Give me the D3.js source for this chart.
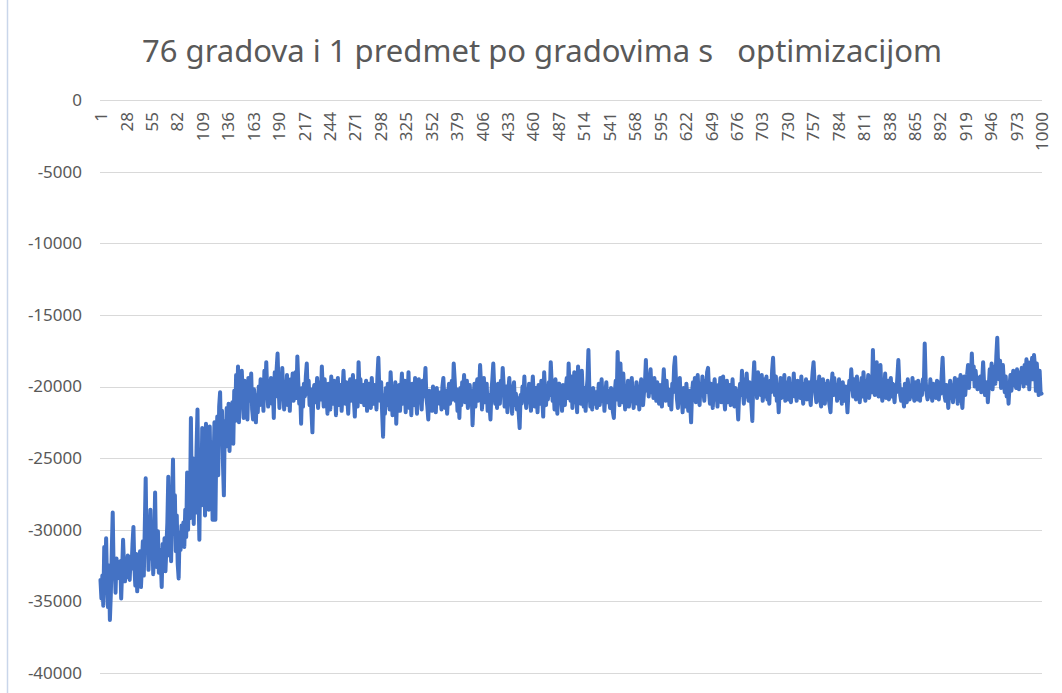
<!DOCTYPE html>
<html>
<head>
<meta charset="utf-8">
<script src="https://cdn.jsdelivr.net/npm/d3@7"></script>
<style>
  body { margin: 0; background: #fff; }
  svg { display: block; }
</style>
</head>
<body>
<svg></svg>
<script>
"use strict";

// Data
const title = "76 gradova i 1 predmet po gradovima s   optimizacijom";
const categories = d3.range(1, 1001);
const xTickLabels = [1, 28, 55, 82, 109, 136, 163, 190, 217, 244, 271, 298, 325, 352, 379, 406, 433, 460, 487,
  514, 541, 568, 595, 622, 649, 676, 703, 730, 757, 784, 811, 838, 865, 892, 919, 946, 973, 1000];
const yTicks = [0, -5000, -10000, -15000, -20000, -25000, -30000, -35000, -40000];

const values = [
  -33500, -34800, -33200, -35300, -31200, -34000, -30600, -33800, -35400, -32500, -36300, -34500, -31500, -28800, -33000, -32300, -34400, -32000, -33400, -32600,
  -33100, -32200, -34800, -32800, -30700, -32500, -33600, -32100, -33300, -31800, -32900, -33500, -31900, -32700, -31000, -29800, -32600, -33900, -31700, -34300,
  -32200, -33800, -31500, -34000, -32400, -30800, -33200, -30000, -26400, -31500, -29200, -32800, -30400, -28600, -32000, -30200, -33100, -31000, -27400, -31800,
  -32600, -30100, -33000, -31400, -32200, -34000, -31000, -32500, -30600, -32900, -31200, -29500, -26300, -31800, -29000, -32200, -28000, -25100, -30300, -27600,
  -31500, -29000, -32400, -33400, -30200, -31400, -29700, -30900, -29500, -31200, -28600, -30500, -26000, -30000, -27000, -29200, -22200, -28400, -25000, -29600,
  -25500, -28800, -24300, -21600, -27200, -30700, -24800, -28300, -22900, -27500, -23500, -29000, -22600, -26800, -24200, -28600, -22800, -27000, -23900, -29300,
  -25600, -22500, -29300, -24000, -22100, -26200, -21400, -20400, -23800, -21700, -25300, -27600, -22400, -24200, -21500, -23600, -21200, -24500, -22000, -23300,
  -21100, -24000, -20300, -22400, -19200, -21800, -18600, -22500, -19800, -21300, -18900, -20700, -22200, -19600, -21500, -20100, -22300, -19400, -21000, -20400,
  -19100, -21600, -22300, -20200, -21000, -22500, -20600, -21800, -20000, -21300, -19500, -20900, -19800, -21700, -18900, -20500, -18300, -20300, -21400, -19600,
  -20800, -19400, -21200, -20100, -22200, -19000, -20700, -18800, -17700, -19900, -21500, -19300, -20600, -18700, -20400, -21600, -19800, -20900, -19200, -21300,
  -20000, -21700, -19500, -20600, -19100, -21000, -20300, -19000, -20800, -17900, -19700, -21200, -20400, -22600, -20100, -21400, -19800, -20700, -19300, -18400,
  -20500, -19600, -21300, -20200, -21800, -23200, -20400, -19900, -21100, -20600, -19400, -21500, -20300, -19700, -20900, -18600, -20200, -21400, -19500, -21000,
  -20700, -21900, -19800, -20500, -21600, -19300, -20800, -21200, -19600, -20400, -22000, -20100, -19400, -21300, -20600, -19900, -21700, -20300, -18900, -20500,
  -21200, -19700, -20800, -21900, -20200, -19500, -21000, -20400, -19200, -20900, -22100, -20000, -19600, -21400, -18300, -20300, -19500, -21100, -20600, -19900,
  -21300, -20100, -19600, -21700, -20400, -19800, -20900, -21500, -19400, -20700, -21200, -19900, -20500, -21600, -19300, -18000, -20200, -21000, -19700, -21800,
  -23500, -20600, -21900, -20100, -21300, -19800, -20700, -21600, -19000, -20400, -22000, -20800, -21400, -19700, -22600, -20500, -21100, -19900, -21700, -20300,
  -19100, -21200, -20400, -19600, -21800, -20300, -20900, -19000, -21500, -20100, -22000, -19800, -20600, -21300, -19400, -20800, -21900, -20200, -19500, -21000,
  -20500, -21600, -19600, -20700, -19900, -18700, -20800, -21400, -22300, -20300, -21100, -20600, -21700, -20000, -21300, -20800, -21800, -20100, -21000, -20500,
  -21200, -20400, -21600, -20000, -19400, -20900, -21500, -20300, -21900, -20700, -19800, -21200, -20500, -19600, -20900, -18400, -19500, -21000, -20200, -21700,
  -20600, -22200, -20100, -21300, -19700, -20500, -19200, -21100, -20400, -19600, -21500, -20800, -19900, -21200, -20300, -22700, -20900, -19800, -21400, -20200,
  -19500, -21000, -20300, -18500, -19900, -21600, -20200, -19400, -21100, -20500, -19800, -21700, -20600, -21300, -22300, -20400, -19500, -18400, -20100, -21200,
  -20300, -21500, -19800, -20700, -21200, -19600, -20500, -18700, -19900, -21400, -20600, -20000, -21800, -20300, -19400, -21000, -20700, -21900, -20200, -19700,
  -21300, -20500, -21600, -20800, -21900, -22900, -20600, -21200, -20000, -20700, -19300, -20900, -21500, -20200, -21100, -19800, -20600, -21700, -20300, -19300,
  -20800, -21400, -20100, -20700, -21800, -19900, -20500, -21200, -19600, -20800, -22100, -19000, -20400, -21300, -20000, -20900, -19700, -20600, -18300, -19800,
  -21000, -20200, -21600, -19500, -20700, -21900, -20300, -19800, -21100, -20500, -21700, -19900, -20600, -21300, -20100, -19400, -20800, -18400, -20300, -21000,
  -19300, -21500, -20400, -19000, -21100, -20000, -21800, -18600, -20500, -19700, -21200, -18900, -20600, -21400, -20100, -21700, -20300, -19500, -17450, -20200,
  -21400, -20500, -21600, -20100, -20600, -21200, -20400, -21500, -20800, -19800, -21300, -20600, -19500, -21000, -20200, -21700, -20500, -19700, -21100, -20300,
  -20800, -21500, -20100, -21000, -21800, -22200, -20400, -19600, -20900, -17600, -20000, -21300, -18400, -20600, -21100, -19100, -20500, -21600, -20200, -20900,
  -19600, -21400, -20300, -21000, -19400, -20700, -21500, -20100, -20800, -19700, -21200, -20500, -21600, -20200, -19500, -20900, -21300, -20400, -19800, -18150,
  -20300, -19200, -20700, -19600, -18800, -20400, -19900, -20800, -19400, -20200, -21000, -19700, -20500, -21200, -19900, -20600, -21400, -20100, -18800, -20400,
  -21000, -19600, -20800, -20200, -21300, -20500, -21600, -19800, -20400, -18600, -17950, -19700, -20900, -21500, -20300, -19400, -21100, -20700, -21800, -20100,
  -20600, -21400, -19800, -20900, -21700, -20300, -21200, -22500, -20400, -19700, -20800, -19400, -21100, -20000, -19200, -20600, -21300, -19900, -20500, -19300,
  -20200, -21000, -19600, -20400, -19000, -18700, -20300, -21200, -19800, -20600, -21500, -20100, -19500, -20900, -20300, -21400, -19900, -20700, -19400, -21100,
  -20500, -19300, -20800, -21600, -20200, -19600, -21100, -20400, -19900, -21300, -20600, -19500, -20900, -21400, -20100, -20700, -21100, -22300, -20500, -19800,
  -20600, -18900, -20300, -21200, -19500, -20700, -19100, -20400, -21000, -19700, -20500, -21300, -22400, -19600, -18300, -20200, -19400, -20800, -19000, -20500,
  -19800, -20600, -19200, -21000, -20100, -19500, -20700, -19300, -20900, -20300, -21200, -19600, -20400, -18900, -18000, -19700, -20600, -19300, -21000, -20400,
  -21800, -20200, -19400, -20800, -19900, -20500, -19200, -21000, -20300, -19700, -20900, -19400, -20600, -21100, -19800, -20400, -19100, -20700, -20000, -21000,
  -19600, -20300, -19900, -20800, -19300, -20500, -21200, -19800, -20600, -19500, -20900, -20100, -19700, -20700, -21300, -19900, -19000, -18300, -19600, -20500,
  -21100, -19700, -20400, -19300, -20900, -21400, -20000, -19500, -20700, -21200, -19800, -20300, -19600, -20800, -21300, -21800, -20100, -19100, -20600, -19400,
  -20500, -19900, -21000, -20300, -19500, -20800, -20100, -21200, -19700, -20600, -21000, -20000, -20700, -21800, -20400, -19600, -20200, -18800, -19900, -20700,
  -19500, -20400, -20900, -19300, -20600, -19800, -21100, -20200, -19400, -20700, -19000, -20300, -21000, -19600, -20500, -19200, -20800, -20000, -19300, -20400,
  -17450, -19900, -20600, -19200, -18300, -20100, -20700, -19500, -18500, -20300, -21000, -19700, -20400, -19100, -20800, -20200, -19600, -20900, -20000, -19400,
  -20700, -19800, -20500, -21100, -19900, -20400, -19300, -18150, -19700, -20600, -21000, -20200, -20800, -21400, -19800, -20600, -21100, -19500, -20300, -20900,
  -20000, -20700, -19400, -20500, -21000, -19700, -20300, -20900, -19600, -20400, -21000, -19900, -20600, -19500, -20200, -17000, -19600, -20500, -20900, -20100,
  -20700, -19500, -20300, -21000, -19800, -20600, -20100, -20800, -19600, -20400, -20900, -19700, -20500, -19200, -18000, -19800, -20600, -21000, -19900, -20500,
  -21500, -20300, -19600, -20800, -19900, -21100, -20200, -19400, -20700, -20000, -21200, -19500, -20500, -19200, -20900, -21500, -20100, -19300, -20600, -19700,
  -19200, -18500, -20100, -18800, -19500, -17700, -19300, -18600, -20000, -18900, -19600, -20200, -19400, -19900, -19300, -20400, -19600, -18300, -19800, -20600,
  -20300, -19700, -21100, -20000, -18800, -19600, -18400, -20200, -19100, -18600, -19800, -17900, -16600, -18700, -19500, -18200, -20100, -19000, -18500, -19700,
  -20400, -19300, -20700, -19900, -21200, -20000, -19200, -20300, -19500, -18900, -19900, -19300, -20100, -18800, -19600, -20200, -19000, -19700, -18700, -19400,
  -20000, -18500, -19300, -18100, -19800, -18300, -20200, -18700, -19100, -18000, -19500, -17800, -18600, -20300, -18400, -19700, -20600, -18900, -20400, -20500
];

// Sizes
const W = 1062, H = 693;
const plot = { l: 100, r: 1042, t: 100, b: 673 };
const textColor = "#595959";
const font = "'Noto Sans', 'Open Sans', sans-serif";

const svg = d3.select("svg")
  .attr("width", W)
  .attr("height", H)
  .attr("viewBox", `0 0 ${W} ${H}`);

svg.append("rect").attr("width", W).attr("height", H).attr("fill", "#fff");

// Sheet edge on the left
svg.append("line")
  .attr("x1", 7.5).attr("x2", 7.5).attr("y1", 0).attr("y2", H)
  .attr("stroke", "#c9d6ea").attr("stroke-width", 1.5);

// Scales
const x = d3.scalePoint()
  .domain(categories)
  .range([plot.l, plot.r])
  .padding(0.5);

const y = d3.scaleLinear()
  .domain([-40000, 0])
  .range([plot.b, plot.t]);

// Gridlines
svg.append("g")
  .selectAll("line")
  .data(yTicks)
  .join("line")
    .attr("x1", plot.l).attr("x2", plot.r)
    .attr("y1", d => Math.round(y(d)) + 0.5)
    .attr("y2", d => Math.round(y(d)) + 0.5)
    .attr("stroke", "#d9d9d9")
    .attr("stroke-width", 1.2);

// Y axis labels (plain hyphen, like Excel)
const yAxis = svg.append("g")
  .attr("transform", `translate(${plot.l - 18}, 0)`)
  .call(d3.axisLeft(y).tickValues(yTicks).tickSize(0).tickPadding(0).tickFormat(d => String(d)));
yAxis.select(".domain").remove();
yAxis.selectAll("text")
  .attr("fill", textColor)
  .style("font-family", font)
  .style("font-size", "17px");

// X axis labels (top, rotated)
const xAxis = svg.append("g")
  .attr("transform", `translate(0, ${plot.t})`)
  .call(d3.axisBottom(x).tickValues(xTickLabels).tickSize(0).tickPadding(0));
xAxis.select(".domain").remove();
xAxis.selectAll("text")
  .attr("fill", textColor)
  .style("font-family", font)
  .style("font-size", "17px")
  .attr("text-anchor", "end")
  .attr("transform", "rotate(-90)")
  .attr("x", -12)
  .attr("y", 0)
  .attr("dy", "0.36em");

// Line
const line = d3.line()
  .x((d, i) => x(categories[i]))
  .y(d => y(d));

svg.append("path")
  .attr("d", line(values))
  .attr("fill", "none")
  .attr("stroke", "#4472c4")
  .attr("stroke-width", 4)
  .attr("stroke-linejoin", "round")
  .attr("stroke-linecap", "round");

// Title
svg.append("text")
  .attr("x", 542)
  .attr("y", 62)
  .attr("text-anchor", "middle")
  .attr("fill", textColor)
  .style("font-family", font)
  .style("font-size", "30px")
  .style("white-space", "pre")
  .attr("textLength", 800)
  .attr("lengthAdjust", "spacingAndGlyphs")
  .text(title);
</script>
</body>
</html>
